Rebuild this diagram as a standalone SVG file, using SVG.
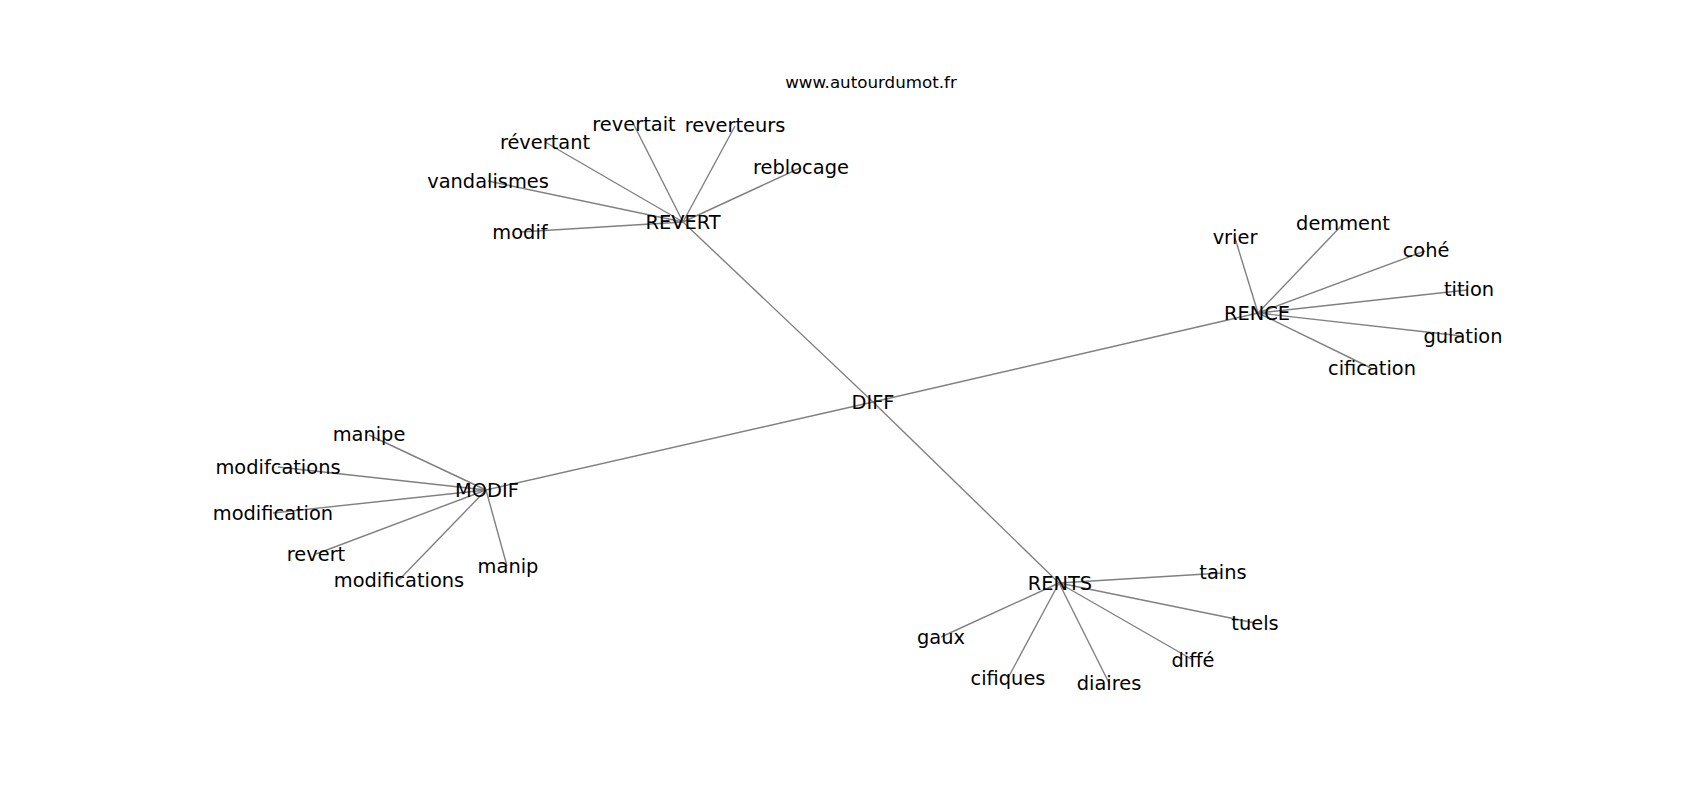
<svg xmlns="http://www.w3.org/2000/svg" width="1700" height="800" viewBox="0 0 1700 800">
<style>
.e{stroke:#808080;stroke-width:1.4;fill:none}
.l{font-family:"DejaVu Sans","Liberation Sans",sans-serif;font-size:19.4px;fill:#000;text-anchor:middle}
.t{font-family:"DejaVu Sans","Liberation Sans",sans-serif;font-size:16.7px;fill:#000;text-anchor:middle}
</style>
<rect width="1700" height="800" fill="#fff"/>
<text class="t" x="871" y="88">www.autourdumot.fr</text>
<g id="connectors">
<line class="e" x1="873" y1="402" x2="683" y2="222"/>
<line class="e" x1="873" y1="402" x2="1258" y2="313"/>
<line class="e" x1="873" y1="402" x2="486" y2="490"/>
<line class="e" x1="873" y1="402" x2="1059" y2="583"/>
<line class="e" x1="683" y1="222" x2="545" y2="142"/>
<line class="e" x1="683" y1="222" x2="634" y2="125"/>
<line class="e" x1="683" y1="222" x2="735" y2="126"/>
<line class="e" x1="683" y1="222" x2="800" y2="168"/>
<line class="e" x1="683" y1="222" x2="488" y2="181"/>
<line class="e" x1="683" y1="222" x2="520" y2="232"/>
<line class="e" x1="1258" y1="313" x2="1235" y2="238"/>
<line class="e" x1="1258" y1="313" x2="1343" y2="224"/>
<line class="e" x1="1258" y1="313" x2="1425" y2="251"/>
<line class="e" x1="1258" y1="313" x2="1467" y2="290"/>
<line class="e" x1="1258" y1="313" x2="1462" y2="336"/>
<line class="e" x1="1258" y1="313" x2="1371" y2="368"/>
<line class="e" x1="486" y1="490" x2="369" y2="435"/>
<line class="e" x1="486" y1="490" x2="278" y2="467"/>
<line class="e" x1="486" y1="490" x2="273" y2="513"/>
<line class="e" x1="486" y1="490" x2="316" y2="554"/>
<line class="e" x1="486" y1="490" x2="399" y2="580"/>
<line class="e" x1="486" y1="490" x2="507" y2="566"/>
<line class="e" x1="1059" y1="583" x2="1222" y2="573"/>
<line class="e" x1="1059" y1="583" x2="1255" y2="623"/>
<line class="e" x1="1059" y1="583" x2="1193" y2="660"/>
<line class="e" x1="1059" y1="583" x2="1109" y2="683"/>
<line class="e" x1="1059" y1="583" x2="1008" y2="678"/>
<line class="e" x1="1059" y1="583" x2="941" y2="637"/>
</g>
<g id="n-DIFF"><text class="l" x="873" y="409">DIFF</text></g>
<g id="n-REVERT"><text class="l" x="683" y="229">REVERT</text></g>
<g id="n-RENCE"><text class="l" x="1257" y="320">RENCE</text></g>
<g id="n-MODIF"><text class="l" x="487" y="497">MODIF</text></g>
<g id="n-RENTS"><text class="l" x="1060" y="590">RENTS</text></g>
<g id="n-revertant"><text class="l" x="545" y="149">révertant</text></g>
<g id="n-revertait"><text class="l" x="634" y="131">revertait</text></g>
<g id="n-reverteurs"><text class="l" x="735" y="132">reverteurs</text></g>
<g id="n-reblocage"><text class="l" x="801" y="174">reblocage</text></g>
<g id="n-vandalismes"><text class="l" x="488" y="188">vandalismes</text></g>
<g id="n-modif"><text class="l" x="520" y="239">modif</text></g>
<g id="n-vrier"><text class="l" x="1235" y="244">vrier</text></g>
<g id="n-demment"><text class="l" x="1343" y="230">demment</text></g>
<g id="n-cohe"><text class="l" x="1426" y="257">cohé</text></g>
<g id="n-tition"><text class="l" x="1469" y="296">tition</text></g>
<g id="n-gulation"><text class="l" x="1463" y="343">gulation</text></g>
<g id="n-cification"><text class="l" x="1372" y="375">cification</text></g>
<g id="n-manipe"><text class="l" x="369" y="441">manipe</text></g>
<g id="n-modifcations"><text class="l" x="278" y="474">modifcations</text></g>
<g id="n-modification"><text class="l" x="273" y="520">modification</text></g>
<g id="n-revert"><text class="l" x="316" y="561">revert</text></g>
<g id="n-modifications"><text class="l" x="399" y="587">modifications</text></g>
<g id="n-manip"><text class="l" x="508" y="573">manip</text></g>
<g id="n-tains"><text class="l" x="1223" y="579">tains</text></g>
<g id="n-tuels"><text class="l" x="1255" y="630">tuels</text></g>
<g id="n-diffe"><text class="l" x="1193" y="667">diffé</text></g>
<g id="n-diaires"><text class="l" x="1109" y="690">diaires</text></g>
<g id="n-cifiques"><text class="l" x="1008" y="685">cifiques</text></g>
<g id="n-gaux"><text class="l" x="941" y="644">gaux</text></g>
</svg>
